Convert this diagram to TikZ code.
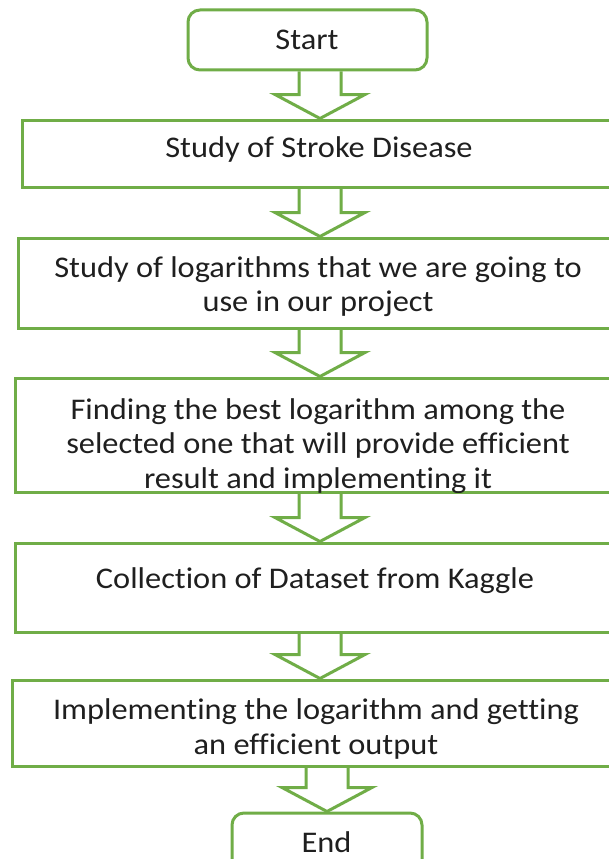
\documentclass[tikz,border=0pt]{standalone}
\usepackage{fontspec}
\setmainfont[FakeStretch=1.08,Ligatures=NoCommon]{Carlito}
\usetikzlibrary{calc}
\definecolor{boxgreen}{RGB}{112,173,71}

% hollow block arrow from the bottom of #1 down to the top of #2
\newcommand{\blockarrow}[2]{%
  \draw[flowarr] let \p1=(#1.south), \p2=(#2.north) in
    (\x2-21pt,\y1) -- (\x2-21pt,\y2+24pt) -- (\x2-45pt,\y2+24pt) -- (\x2,\y2)
    -- (\x2+45pt,\y2+24pt) -- (\x2+21pt,\y2+24pt) -- (\x2+21pt,\y1);}

\begin{document}
\begin{tikzpicture}[x=1pt,y=-1pt,
    box/.style={draw=boxgreen,line width=3pt,inner sep=0pt},
    term/.style={box,rounded corners=12pt,minimum width=239pt,minimum height=60pt},
    lbl/.style={font=\fontsize{30}{34.5}\selectfont,align=center,text=black!88,inner sep=0pt,anchor=base},
    flowarr/.style={draw=boxgreen,line width=3pt,line join=miter}]
\useasboundingbox (0,0) rectangle (608,859);
\fill[white] (0,0) rectangle (608,859);
\node[term](start)at(307.5, 40){};
\node[box,minimum width=596pt,minimum height=67pt](b2)at(320, 153.5){};
\node[box,minimum width=604pt,minimum height=90pt](b3)at(320, 283){};
\node[box,minimum width=610pt,minimum height=114pt](b4)at(320, 435){};
\node[box,minimum width=610pt,minimum height=89pt](b5)at(320, 587.5){};
\node[box,minimum width=616pt,minimum height=86pt](b6)at(320, 723){};
\node[term,minimum width=190pt](end)at(327, 843){};
% base anchor of a multi-line label sits on its last line
\node[lbl](tstart)at(307, 50){Start};
\node[lbl](t2)at(319, 157){Study of Stroke Disease};
\node[lbl](t3)at(318, 311.5){Study of logarithms that we are going to\\use in our project};
\begin{scope}
  \clip ([yshift=1.5pt]b4.south west) rectangle (b4.north east);
  \node[lbl](t4)at(318, 488){Finding the best logarithm among the\\selected one that will provide efficient\\result and implementing it};
\end{scope}
\node[lbl](t5)at(315, 588){Collection of Dataset from Kaggle};
\node[lbl](t6)at(316, 754){Implementing the logarithm and getting\\an efficient output};
\node[lbl](tend)at(326.5, 852){End};
\blockarrow{start}{b2}
\blockarrow{b2}{b3}
\blockarrow{b3}{b4}
\blockarrow{b4}{b5}
\blockarrow{b5}{b6}
\blockarrow{b6}{end}
\end{tikzpicture}
\end{document}
